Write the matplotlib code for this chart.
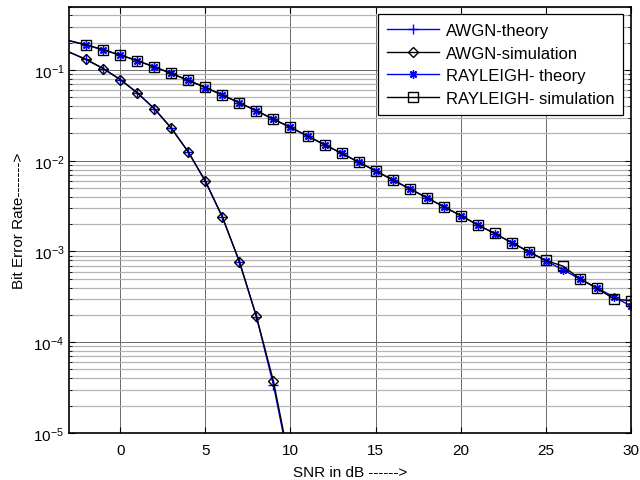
import numpy as np
import matplotlib
matplotlib.use("Agg")
import matplotlib.pyplot as plt

plt.rcParams['font.family'] = ['Liberation Sans', 'DejaVu Sans']
plt.rcParams['mathtext.default'] = 'regular'

# SNR axis (dB)
snr = list(range(-3, 31))
awgn_snr = list(range(-3, 12))

# BER values
awgn_theory = [0.158, 0.131, 0.104, 0.0786, 0.0563, 0.0375, 0.0229, 0.0125,
               0.00595, 0.00239, 7.73e-4, 1.91e-4, 3.36e-5, 3.9e-6, 2.6e-7]
awgn_sim = [0.158, 0.131, 0.104, 0.0787, 0.0562, 0.0376, 0.0229, 0.0125,
            0.00597, 0.00240, 7.7e-4, 1.92e-4, 3.7e-5, 4.2e-6, 2.0e-7]
rayleigh_theory = [0.211, 0.189, 0.167, 0.146, 0.127, 0.109, 0.0919, 0.0771,
                   0.0642, 0.0530, 0.0435, 0.0355, 0.0288, 0.0233, 0.0188,
                   0.0151, 0.0121, 0.00966, 0.00773, 0.00617, 0.00492,
                   0.00392, 0.00312, 0.00248, 0.00197, 0.00157, 0.00125,
                   9.92e-4, 7.89e-4, 6.27e-4, 4.98e-4, 3.96e-4, 3.15e-4, 2.5e-4]
rayleigh_sim = [0.211, 0.190, 0.168, 0.147, 0.127, 0.108, 0.0921, 0.0770,
                0.0645, 0.0531, 0.0436, 0.0356, 0.0287, 0.0234, 0.0187,
                0.0150, 0.0121, 0.00968, 0.00775, 0.00615, 0.00490,
                0.00393, 0.00311, 0.00249, 0.00196, 0.00158, 0.00125,
                9.93e-4, 7.96e-4, 6.9e-4, 5.0e-4, 3.92e-4, 3.0e-4, 2.85e-4]

fig = plt.figure(figsize=(6.4, 4.81), dpi=100)
ax = fig.add_axes([0.108, 0.098, 0.878, 0.886])

mk = slice(1, None)
ax.semilogy(awgn_snr, awgn_theory, color='blue', lw=1, marker='+', ms=7,
            markevery=mk, label='AWGN-theory')
ax.semilogy(awgn_snr, awgn_sim, color='black', lw=1, marker='D', ms=5,
            mfc='none', mec='black', markevery=mk, label='AWGN-simulation')
ax.semilogy(snr, rayleigh_theory, color='blue', lw=1, marker=(8, 2, 0), ms=6,
            markevery=mk, label='RAYLEIGH- theory')
ax.semilogy(snr, rayleigh_sim, color='black', lw=1, marker='s', ms=6.5,
            mfc='none', mec='black', markevery=mk, label='RAYLEIGH- simulation')

ax.set_xlim(-3, 30)
ax.set_ylim(1e-5, 0.5)
ax.set_xticks([0, 5, 10, 15, 20, 25, 30])
ax.set_yticks([1e-5, 1e-4, 1e-3, 1e-2, 1e-1])

ax.grid(True, which='major', color='#6a6a6a', lw=0.7)
ax.grid(True, which='minor', axis='y', color='#b4b4b4', lw=0.9)
ax.set_axisbelow(True)

ax.tick_params(which='both', direction='in', top=True, right=True,
               labelsize=11)
ax.tick_params(which='major', length=4)
ax.tick_params(axis='x', pad=7)
ax.tick_params(which='minor', length=2)
for s in ax.spines.values():
    s.set_linewidth(1.2)

ax.set_xlabel('SNR in dB ------>', fontsize=11, labelpad=6)
ax.set_ylabel('Bit Error Rate------->', fontsize=11, labelpad=5)

leg = ax.legend(loc='upper right', bbox_to_anchor=(0.986, 0.983), fontsize=12,
                handlelength=3.1, labelspacing=0.45, borderpad=0.55,
                handletextpad=0.4, fancybox=False, framealpha=1,
                edgecolor='black', borderaxespad=0)
leg.get_frame().set_linewidth(0.9)

fig.savefig('out.png', dpi=100)
